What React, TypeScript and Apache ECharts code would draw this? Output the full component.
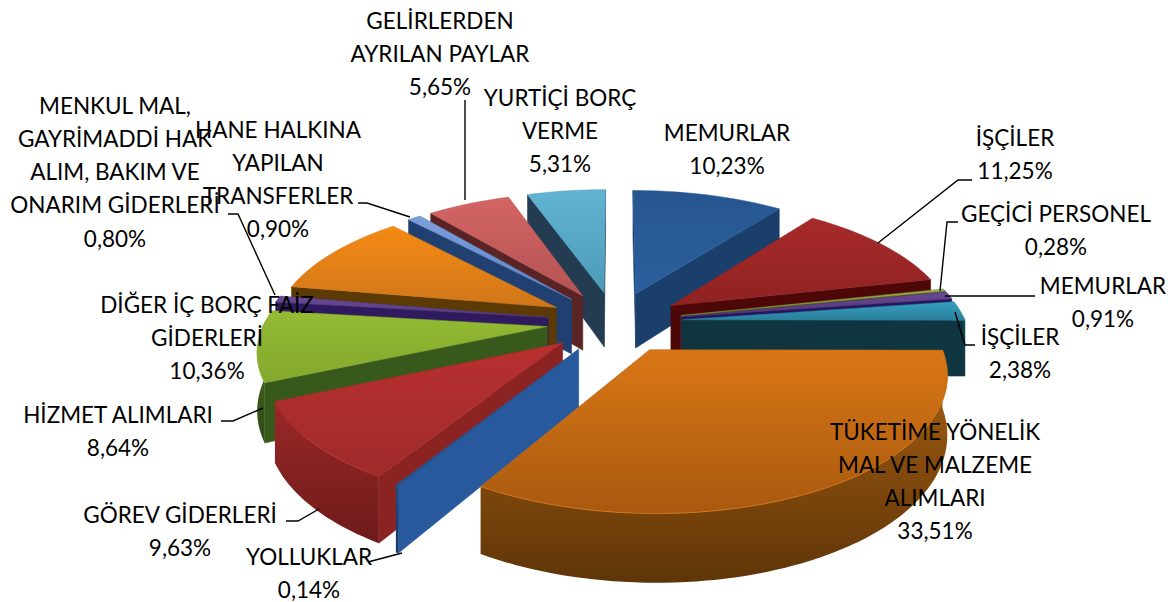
import React, { useEffect, useRef } from "react";
import * as echarts from "echarts";

const labelLines = [
  ["MEMURLAR"], ["İŞÇİLER"], ["GEÇİCİ PERSONEL"], ["MEMURLAR"], ["İŞÇİLER"],
  ["TÜKETİME YÖNELİK", "MAL VE MALZEME", "ALIMLARI"], ["YOLLUKLAR"], ["GÖREV GİDERLERİ"],
  ["HİZMET ALIMLARI"], ["MENKUL MAL,", "GAYRİMADDİ HAK", "ALIM, BAKIM VE", "ONARIM GİDERLERİ"],
  ["DİĞER İÇ BORÇ FAİZ", "GİDERLERİ"], ["HANE HALKINA", "YAPILAN", "TRANSFERLER"],
  ["GELİRLERDEN", "AYRILAN PAYLAR"], ["YURTİÇİ BORÇ", "VERME"],
];
const values = [10.23, 11.25, 0.28, 0.91, 2.38, 33.51, 0.14, 9.63, 8.64, 0.8, 10.36, 0.9, 5.65, 5.31];

const topLight = ["#26568f", "#a82a2a", "#9aae48", "#6a4a94", "#35a0bf", "#d97716", "#2a5fa6", "#b83030", "#93bb33", "#6b4a9a", "#f58a14", "#7d9fdc", "#d46464", "#62b4d3"];
const topDark = ["#2b5f9e", "#8f2222", "#7c8f3a", "#503576", "#2a7f9a", "#a8590f", "#24528f", "#a02a2a", "#84a82e", "#533a80", "#d0761a", "#5e83c2", "#b45454", "#4b9ab8"];
const sideColors = ["#1a3f6a", "#4d0707", "#4a5520", "#241660", "#0f3540", "#6c3f0a", "#27599c", "#8c2323", "#38591c", "#2f1a5e", "#5c3a06", "#1f4070", "#5a2424", "#243c52"];
const rimLight = ["#1f4b80", "#701414", "#5a6528", "#38246a", "#174c5e", "#a86012", "#1f4b80", "#9a2828", "#4a6e20", "#38246a", "#7a4408", "#2a4f85", "#6b2a2a", "#31566f"];
const rimDark = ["#17385f", "#4a0808", "#3a4218", "#22144c", "#0e3340", "#5f3508", "#17385f", "#6e1a1a", "#2e4a14", "#22144c", "#5a3205", "#1f3d68", "#4f1e1e", "#24435a"];

const labelCenters = [727, 1015, 1056, 1103, 1020, 935, 309, 180, 118, 115, 207, 278, 440, 560];
const labelTops = [132, 137, 213, 285, 336, 431, 556, 514, 414, 105, 304, 129, 20, 97];
const labelStep = 33.3;
const leaders: (number[][] | null)[] = [
  null,
  [[972, 180], [958, 180], [878, 243]],
  [[958, 222], [947, 222], [940, 291]],
  [[1035, 296], [945, 296]],
  [[975, 345], [965, 345], [955, 312]],
  null,
  [[368, 562], [402, 553]],
  [[286, 521], [298, 521], [319, 509]],
  [[221, 421], [233, 421], [263, 408]],
  [[228, 214], [238, 214], [275, 295]],
  null,
  [[358, 203], [367, 203], [410, 217]],
  [[465, 100], [465, 200]],
  null,
];

const CX = 615, CY = 322, RX = 283, RY = 128, DEPTH = 6.3, WALL = 56, EXPLODE = 0.24;

const total = values.reduce((a, b) => a + b, 0);
const starts: number[] = [];
values.reduce((acc, v, i) => { starts[i] = acc; return acc + v; }, 0);
const toAngle = (v: number) => (v / total) * Math.PI * 2;

function project(x: number, y: number, z: number) {
  const s = DEPTH / (DEPTH - y);
  return [CX + RX * x * s, CY + RY * y * s + WALL * z * s];
}
const area = (p: number[][]) => {
  let a = 0;
  for (let i = 0; i < p.length; i++) {
    const q = p[(i + 1) % p.length];
    a += p[i][0] * q[1] - q[0] * p[i][1];
  }
  return a / 2;
};
const grad = (a: string, b: string, x2 = 0, y2 = 1) => ({
  type: "linear", x: 0, y: 0, x2, y2,
  colorStops: [{ offset: 0, color: a }, { offset: 1, color: b }],
});

function sliceShapes(i: number) {
  const a0 = toAngle(starts[i]);
  const a1 = toAngle(starts[i] + values[i]);
  const mid = (a0 + a1) / 2;
  const ox = EXPLODE * Math.sin(mid), oy = -EXPLODE * Math.cos(mid);
  const rim: number[][] = [];
  const n = Math.max(2, Math.ceil((a1 - a0) / 0.03));
  for (let k = 0; k <= n; k++) {
    const a = a0 + ((a1 - a0) * k) / n;
    rim.push([ox + Math.sin(a), oy - Math.cos(a)]);
  }
  const P = (p: number[], z: number) => project(p[0], p[1], z);
  const apex = [ox, oy];
  const children: any[] = [];
  const poly = (points: number[][], fill: any, stroke?: string) =>
    children.push({ type: "polygon", shape: { points }, style: { fill, stroke: stroke ?? "none", lineWidth: stroke ? 0.5 : 0 } });

  const top = [P(apex, 0), ...rim.map((p) => P(p, 0))];
  // The top face winds one way on screen: a wall that winds the same way faces the viewer.
  const sign = Math.sign(area(top));
  const wallA = [P(apex, 0), P(apex, 1), P(rim[0], 1), P(rim[0], 0)];
  const wallB = [P(rim[n], 0), P(rim[n], 1), P(apex, 1), P(apex, 0)];
  [wallA, wallB].forEach((w) => {
    if (Math.sign(area(w)) === sign) poly(w, sideColors[i], sideColors[i]);
  });
  // outer wall: only the stretches of the rim that turn towards the viewer
  const front: number[][] = [];
  let run: number[][] = [];
  rim.forEach((p, k) => {
    const a = a0 + ((a1 - a0) * k) / n;
    if (Math.cos(a) < 0.05) run.push(p); else if (run.length) { front.push(...run); run = []; }
  });
  front.push(...run);
  if (front.length > 1) {
    poly([...front.map((p) => P(p, 0)), ...front.slice().reverse().map((p) => P(p, 1))], grad(rimLight[i], rimDark[i]));
  }
  poly(top, grad(topLight[i], topDark[i]), topDark[i]);
  if (front.length > 1) {
    children.push({ type: "polyline", shape: { points: front.map((p) => P(p, 0)) }, style: { fill: "none", stroke: topLight[i], lineWidth: 1, opacity: 0.8 } });
  }
  return children;
}

const paintOrder = values
  .map((_, i) => i)
  .sort((a, b) => {
    const m = (k: number) => toAngle(starts[k] + values[k] / 2);
    return -Math.cos(m(a)) - -Math.cos(m(b));
  });

const pct = (v: number) => v.toFixed(2).replace(".", ",") + "%";

export default function App() {
  const ref = useRef<HTMLDivElement>(null);
  useEffect(() => {
    document.body.style.margin = "0";
    const chart = echarts.init(ref.current!, undefined, { renderer: "svg" });
    const graphics: any[] = [];
    labelLines.forEach((lines, i) => {
      [...lines, pct(values[i])].forEach((t, k) => {
        graphics.push({
          type: "text", x: labelCenters[i], y: labelTops[i] + k * labelStep, z: 100,
          style: { text: t, fill: "#000", font: "22.5px Lato, Carlito, sans-serif", textAlign: "center", textVerticalAlign: "middle" },
        });
      });
    });
    leaders.forEach((pts) => {
      if (pts) graphics.push({ type: "polyline", z: 90, shape: { points: pts }, style: { fill: "none", stroke: "#000", lineWidth: 1.4 } });
    });
    chart.setOption({
      animation: false,
      backgroundColor: "#fff",
      graphic: graphics,
      series: [{
        type: "custom",
        coordinateSystem: "none",
        clip: false,
        silent: true,
        data: paintOrder.map((i) => [i, values[i]]),
        renderItem: (_p: any, api: any) => ({ type: "group", children: sliceShapes(api.value(0)) }),
      }],
    });
    return () => chart.dispose();
  }, []);
  return <div ref={ref} style={{ width: 1175, height: 602 }} />;
}
